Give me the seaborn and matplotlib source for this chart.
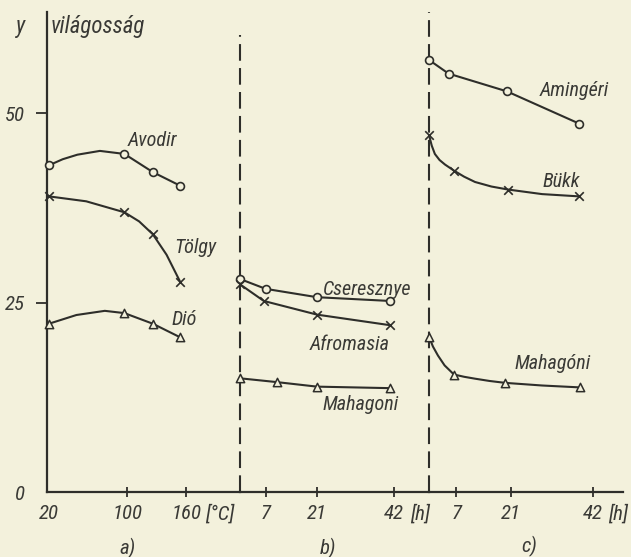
import numpy as np
import pandas as pd
import matplotlib
matplotlib.use("Agg")
import matplotlib.pyplot as plt
import matplotlib.transforms as mtransforms
from matplotlib import font_manager as fm
import seaborn as sns

# ---------------- data ----------------
# panel a) : temperature [°C]
a_temp = [20, 97, 126, 154]
avodir_y = [43.1, 44.6, 42.2, 40.4]
tolgy_y = [39.0, 36.9, 34.0, 27.7]
dio_y = [22.2, 23.6, 22.2, 20.4]
# traced curve points (markers + extra points)
avodir_curve_x = [20, 34, 49, 72, 97, 126, 154]
avodir_curve_y = [43.1, 43.9, 44.5, 45.0, 44.6, 42.2, 40.4]
tolgy_curve_x = [20, 58, 97, 112, 126, 140, 154]
tolgy_curve_y = [39.0, 38.35, 36.9, 35.7, 34.0, 31.3, 27.7]
dio_curve_x = [20, 48, 77, 97, 126, 154]
dio_curve_y = [22.2, 23.35, 23.9, 23.6, 22.2, 20.4]

# panel b) : time [h]
cseresznye_t = [0, 7, 21, 41]
cseresznye_y = [28.1, 26.8, 25.7, 25.2]
afromosia_t = [0, 6.5, 21, 41]
afromosia_y = [27.4, 25.2, 23.4, 22.0]
mahagoni_b_t = [0, 10, 21, 41]
mahagoni_b_y = [15.0, 14.5, 13.9, 13.7]

# panel c) : time [h]
amingeri_t = [0, 5, 20, 38.5]
amingeri_y = [57.0, 55.2, 52.85, 48.6]
bukk_t = [0, 6.4, 20.3, 38.5]
bukk_y = [47.1, 42.4, 39.9, 39.0]
bukk_curve_t = [0, 0.7, 1.5, 2.7, 4.1, 6.4, 9, 11.8, 16, 20.3, 29, 38.5]
bukk_curve_y = [47.1, 45.7, 44.6, 43.8, 43.2, 42.4, 41.6, 40.9, 40.3, 39.9, 39.3, 39.0]
mahagoni_c_t = [0, 6.4, 19.5, 38.7]
mahagoni_c_y = [20.5, 15.5, 14.4, 13.8]
mahagoni_c_curve_t = [0, 1, 2.3, 4, 6.4, 9, 11.8, 15.5, 19.5, 29, 38.7]
mahagoni_c_curve_y = [20.5, 19.2, 18.0, 16.7, 15.5, 15.2, 14.95, 14.65, 14.4, 14.05, 13.8]

a_ticks = [20, 100, 160]
a_ticklabels = ["20", "100", "160"]
h_ticks = [7, 21, 42]
h_ticklabels = ["7", "21", "42"]
y_ticks = [0, 25, 50]
y_ticklabels = ["0", "25", "50"]

# ---------------- style ----------------
BG = "#f3f1dc"
INK = "#2e2e2a"
TXT = "#3a3a36"

sns.set_theme(style="white")
avail = {f.name for f in fm.fontManager.ttflist}
narrow = None
for cand in ["Liberation Sans Narrow", "DejaVu Sans Condensed", "Roboto Condensed"]:
    if cand in avail:
        narrow = cand
        break
if narrow:
    FONT, TFS, LFS, AFS = narrow, 15, 14.5, 16.5
else:
    FONT, TFS, LFS, AFS = "Roboto", 13, 13, 14.5
plt.rcParams["font.family"] = [FONT, "DejaVu Sans"]
plt.rcParams["font.style"] = "italic"
plt.rcParams["text.color"] = TXT
plt.rcParams["xtick.color"] = INK
plt.rcParams["ytick.color"] = INK
plt.rcParams["xtick.labelcolor"] = TXT
plt.rcParams["ytick.labelcolor"] = TXT

W, H = 631, 557
fig = plt.figure(figsize=(W / 100, H / 100), dpi=100, facecolor=BG)

def fx(px):
    return px / W

def fy(py):
    return 1 - py / H

ax_bottom_px, ax_top_px = 492, 12
bottom = fy(ax_bottom_px)
height = (ax_bottom_px - ax_top_px) / H
ax_a = fig.add_axes([fx(47), bottom, fx(240) - fx(47), height])
ax_b = fig.add_axes([fx(240), bottom, fx(429) - fx(240), height])
ax_c = fig.add_axes([fx(429), bottom, fx(623) - fx(429), height])

YMAX = (ax_bottom_px - ax_top_px) / 7.58
ax_a.set_xlim(18, 18 + 193 / 0.98)
ax_b.set_xlim(0, 189 / 3.667)
ax_c.set_xlim(0, 194 / 3.9)

for ax in (ax_a, ax_b, ax_c):
    ax.set_facecolor("none")
    ax.set_ylim(0, YMAX)
    for s in ("top", "right"):
        ax.spines[s].set_visible(False)
    ax.spines["bottom"].set_color(INK)
    ax.spines["bottom"].set_linewidth(1.6)
    ax.spines["left"].set_color(INK)
    ax.spines["left"].set_linewidth(1.6)
    ax.grid(False)

for ax in (ax_b, ax_c):
    ax.spines["left"].set_visible(False)
    ax.set_yticks([])

# dashed separators
ax_b.axvline(0, ymin=0, ymax=(ax_bottom_px - 35) / (ax_bottom_px - ax_top_px),
             color=INK, lw=1.5, ls=(0, (8, 3.5)), clip_on=False)
ax_c.axvline(0, ymin=0, ymax=1.0, color=INK, lw=1.5, ls=(0, (8, 3.5)), clip_on=False)

LW = 1.5

def curve(ax, x, y):
    sns.lineplot(x=x, y=y, ax=ax, color=INK, linewidth=LW, estimator=None,
                 legend=False, clip_on=False)

def marks(ax, x, y, kind):
    if kind == "o":
        sns.scatterplot(x=x, y=y, ax=ax, marker="o", s=32, facecolor=BG,
                        edgecolor=INK, linewidth=1.2, zorder=4, clip_on=False)
    elif kind == "^":
        sns.scatterplot(x=x, y=y, ax=ax, marker="^", s=36, facecolor=BG,
                        edgecolor=INK, linewidth=1.1, zorder=4, clip_on=False)
    else:
        sns.scatterplot(x=x, y=y, ax=ax, marker="x", s=38, color=INK,
                        linewidth=1.2, zorder=4, clip_on=False)

# panel a
curve(ax_a, avodir_curve_x, avodir_curve_y); marks(ax_a, a_temp, avodir_y, "o")
curve(ax_a, tolgy_curve_x, tolgy_curve_y); marks(ax_a, a_temp, tolgy_y, "x")
curve(ax_a, dio_curve_x, dio_curve_y); marks(ax_a, a_temp, dio_y, "^")
# panel b
curve(ax_b, cseresznye_t, cseresznye_y); marks(ax_b, cseresznye_t, cseresznye_y, "o")
curve(ax_b, afromosia_t, afromosia_y); marks(ax_b, afromosia_t, afromosia_y, "x")
curve(ax_b, mahagoni_b_t, mahagoni_b_y); marks(ax_b, mahagoni_b_t, mahagoni_b_y, "^")
# panel c
curve(ax_c, amingeri_t, amingeri_y); marks(ax_c, amingeri_t, amingeri_y, "o")
curve(ax_c, bukk_curve_t, bukk_curve_y); marks(ax_c, bukk_t, bukk_y, "x")
curve(ax_c, mahagoni_c_curve_t, mahagoni_c_curve_y); marks(ax_c, mahagoni_c_t, mahagoni_c_y, "^")

for ax in (ax_a, ax_b, ax_c):
    ax.set_xlabel("")
    ax.set_ylabel("")

# ticks
ax_a.set_xticks(a_ticks)
ax_a.set_xticklabels(a_ticklabels)
ax_b.set_xticks(h_ticks)
ax_b.set_xticklabels(h_ticklabels)
ax_c.set_xticks(h_ticks)
ax_c.set_xticklabels(h_ticklabels)
for ax in (ax_a, ax_b, ax_c):
    ax.tick_params(axis="x", direction="inout", length=7, width=1.3, pad=5,
                   labelsize=TFS, bottom=True)
ax_a.xaxis.get_major_ticks()[0].tick1line.set_visible(False)
ax_a.set_yticks(y_ticks)
ax_a.set_yticklabels(y_ticklabels)
ax_a.tick_params(axis="y", direction="out", length=8, width=1.3, pad=8,
                 labelsize=TFS, left=True)
ax_a.yaxis.get_major_ticks()[0].tick1line.set_visible(False)

# unit labels and captions
def below(ax, x, py, s, size=TFS):
    tr = mtransforms.blended_transform_factory(ax.transData, ax.transAxes)
    ax.text(x, -(py - ax_bottom_px) / (ax_bottom_px - ax_top_px), s, transform=tr,
            ha="center", va="center", fontsize=size, color=TXT)

below(ax_a, 194, 514, "[°C]")
below(ax_b, 49.2, 514, "[h]")
below(ax_c, 48.6, 514, "[h]")
below(ax_a, 100, 548, "a)", TFS)
below(ax_b, 24, 548, "b)", TFS)
below(ax_c, 25.6, 546, "c)", TFS)

# series labels
ax_a.text(100.6, 46.4, "Avodir", ha="left", va="center", fontsize=LFS)
ax_a.text(147.6, 32.3, "Tölgy", ha="left", va="center", fontsize=LFS)
ax_a.text(145.5, 22.7, "Dió", ha="left", va="center", fontsize=LFS)
ax_b.text(22.6, 26.7, "Cseresznye", ha="left", va="center", fontsize=LFS)
ax_b.text(19.1, 19.5, "Afromasia", ha="left", va="center", fontsize=LFS)
ax_b.text(22.6, 11.5, "Mahagoni", ha="left", va="center", fontsize=LFS)
ax_c.text(28.5, 53.0, "Amingéri", ha="left", va="center", fontsize=LFS)
ax_c.text(29.0, 41.0, "Bükk", ha="left", va="center", fontsize=LFS)
ax_c.text(22.0, 17.0, "Mahagóni", ha="left", va="center", fontsize=LFS)

# axis title
fig.text(fx(21), fy(27), "y", ha="center", va="center", fontsize=AFS, color=TXT)
fig.text(fx(51), fy(27), "világosság", ha="left", va="center", fontsize=AFS, color=TXT)

fig.savefig("out.png", dpi=100, facecolor=BG)
